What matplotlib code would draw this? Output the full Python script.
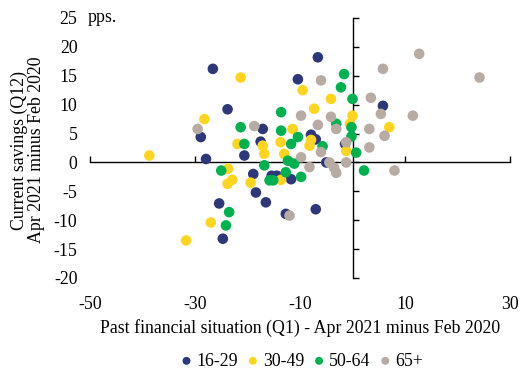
import matplotlib
matplotlib.use("Agg")
import matplotlib.pyplot as plt

# Data (x: past financial situation Q1, y: current savings Q12), pps.
x_16_29 = [-26.6, -23.8, -28.9, -20.6, -27.9, -17.5, -17.1, -18.9, -18.4, -25.4, -24.7, -16.5,
           -15.4, -14.4, -11.7, -12.7, -7.0, -6.6, -10.4, 5.8, -7.9, -7.0, -5.0, -1.4]
y_16_29 = [16.2, 9.2, 4.4, 1.2, 0.6, 3.6, 5.8, -2.0, -5.2, -7.1, -13.2, -6.9,
           -2.3, -2.3, -2.9, -8.9, -8.1, 18.2, 14.4, 9.8, 4.8, 4.0, 0.0, 3.2]

x_30_49 = [-21.3, -28.2, -21.9, -38.7, -23.7, -22.9, -23.8, -19.4, -27.0, -31.7, -9.5, -4.1, -7.3,
           0.0, -0.5, 7.0, -11.4, -7.9, -8.2, -1.2, -13.7, -13.0, -17.1, -16.8, -13.6]
y_30_49 = [14.7, 7.5, 3.2, 1.2, -1.1, -3.0, -3.7, -3.5, -10.4, -13.5, 12.5, 11.0, 9.3,
           8.1, 6.7, 6.1, 5.8, 3.9, 2.9, 2.0, 3.5, 1.5, 2.9, 1.5, -3.0]

x_50_64 = [-21.3, -20.6, -25.0, -23.5, -24.1, -1.6, -2.2, 0.0, -13.6, -3.1, -0.2, -13.6, -10.4,
           -5.7, -0.2, 0.7, -11.7, -12.3, -16.8, -11.1, 2.2, -15.8, -15.1, -12.7, -9.8]
y_50_64 = [6.1, 3.2, -1.4, -8.6, -10.9, 15.3, 13.0, 11.0, 8.7, 6.7, 6.1, 5.5, 4.4,
           2.8, 4.5, 1.7, 3.2, 0.3, -0.5, -0.2, -1.4, -3.1, -3.1, -1.7, -2.5]

x_65 = [-29.5, -18.7, 12.7, 5.8, 24.2, -6.0, 3.5, -9.8, -4.1, 5.4, 11.5, -6.6, -3.1,
        3.2, 6.1, -1.2, 3.2, -6.0, -9.8, -4.4, -1.2, -8.2, -3.1, 8.0, -12.0, -3.5]
y_65 = [5.8, 6.3, 18.8, 16.2, 14.7, 14.2, 11.2, 8.1, 7.9, 8.4, 8.1, 6.5, 5.8,
        5.8, 4.6, 3.5, 2.6, 1.8, 0.9, 0.0, 0.0, -0.8, -1.8, -1.4, -9.2, -0.9]

series = [
    ("16-29", x_16_29, y_16_29, "#2E3878"),
    ("30-49", x_30_49, y_30_49, "#FFD423"),
    ("50-64", x_50_64, y_50_64, "#00B050"),
    ("65+", x_65, y_65, "#B7ABA3"),
]

x_ticks = [-50, -30, -10, 10, 30]
y_ticks = [-20, -15, -10, -5, 0, 5, 10, 15, 20, 25]

plt.rcParams['font.family'] = ['Liberation Serif', 'DejaVu Serif']
fs = 12.8

fig = plt.figure(figsize=(5.21, 3.69), dpi=100)
ax = fig.add_axes([90/521, 1-278/369, 420/521, 260/369])

for name, xs, ys, c in series:
    ax.scatter(xs, ys, s=58, color=c, edgecolors='none', label=name, zorder=3)

ax.set_xlim(-50, 30)
ax.set_ylim(-20, 25)
ax.spines['left'].set_position(('data', 0))
ax.spines['bottom'].set_position(('data', 0))
ax.spines['top'].set_visible(False)
ax.spines['right'].set_visible(False)
for sp in ('left', 'bottom'):
    ax.spines[sp].set_linewidth(1.0)
    ax.spines[sp].set_zorder(2)

ax.set_xticks(x_ticks)
ax.set_yticks(y_ticks)
ax.set_xticklabels([str(v) for v in x_ticks])
ax.set_yticklabels([str(v) for v in y_ticks])
ax.tick_params(axis='x', direction='in', length=4, width=1.0, pad=96, labelsize=fs)
ax.tick_params(axis='y', direction='in', length=4, width=1.0, pad=198, labelsize=fs)

ax.text(-0.005, 25, "pps.", transform=ax.get_yaxis_transform(), ha='left', va='center', fontsize=fs)

fig.text(28/521, 1-150/369, "Current savings (Q12)\nApr 2021 minus Feb 2020", rotation=90,
         ha='center', va='center', multialignment='center', fontsize=fs, linespacing=1.05)
fig.text(300/521, 1-328/369, "Past financial situation (Q1) - Apr 2021 minus Feb 2020",
         ha='center', va='center', fontsize=fs)

fig.legend(loc='center', bbox_to_anchor=(302/521, 1-361/369), ncol=4, frameon=False,
           fontsize=fs, markerscale=0.75, handlelength=0.6, handletextpad=0.25,
           columnspacing=0.55, borderpad=0)

fig.savefig("out.png", dpi=100)
